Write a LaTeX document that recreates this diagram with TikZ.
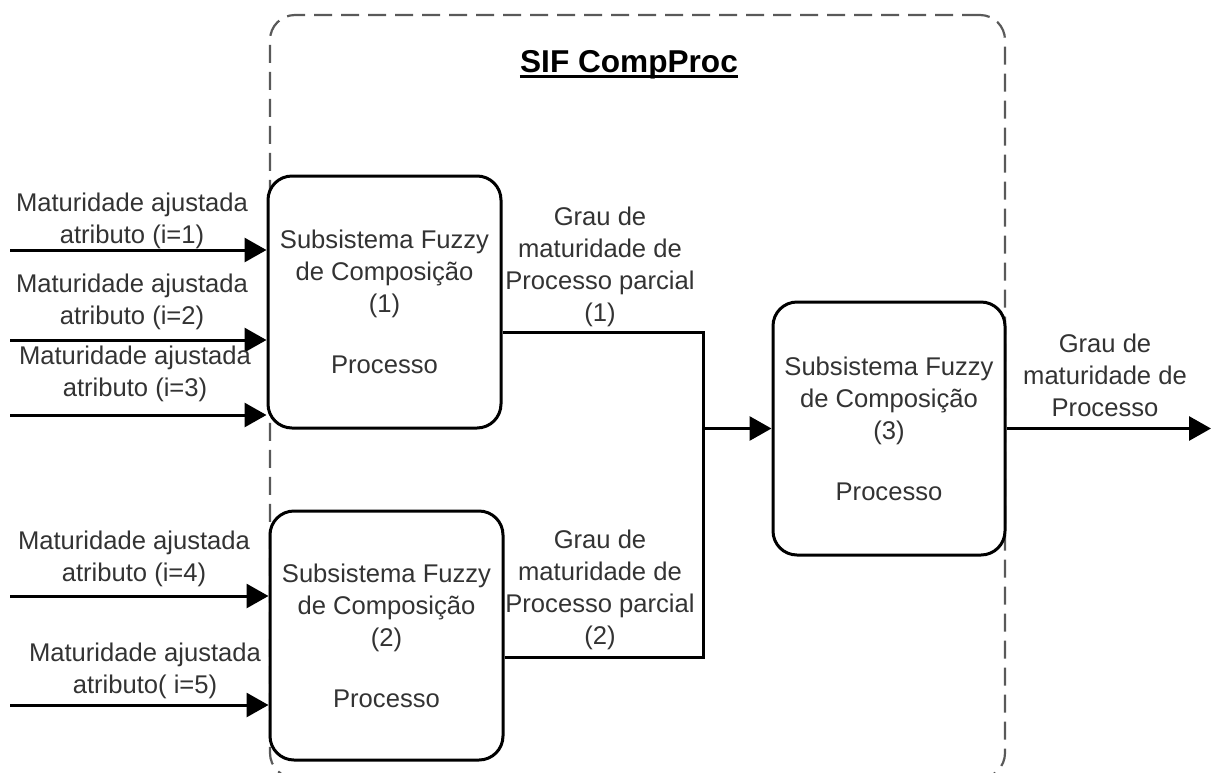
\documentclass[tikz,border=0pt]{standalone}
\usepackage{fontspec}
\setmainfont{Liberation Sans}
\usetikzlibrary{arrows.meta}
\definecolor{inkgray}{rgb}{0.2,0.2,0.2}
\definecolor{framegray}{rgb}{0.35,0.35,0.35}
\newcommand\lbltxt{\fontsize{25.6}{32}\selectfont}
\newcommand\ttltxt{\fontsize{31.6}{38}\selectfont\bfseries}
\tikzset{
  procbox/.style={draw=black, fill=white, line width=3, rounded corners=24,
    minimum width=233, minimum height=250, align=center, inner sep=0,
    font=\lbltxt, text=inkgray},
  lbl/.style={align=center, inner sep=0, font=\lbltxt, text=inkgray},
  wire/.style={line width=3, line cap=butt},
  arr/.style={wire, -{Triangle[length=22, width=24]}},
  frame/.style={draw=framegray, line width=2.2, dash pattern=on 18 off 9,
    rounded corners=25, inner sep=0}
}
\begin{document}
\begin{tikzpicture}[x=1pt, y=-1pt]
  \useasboundingbox (0,0) rectangle (1211,772);

  % dashed system boundary
  \node[frame, minimum width=735, minimum height=763] (sif) at (637.5,396.5) {};
  \node[inner sep=0, font=\ttltxt] (title) at (629,65) {SIF CompProc};
  \draw[line width=2.6] ([yshift=-4]title.base west) -- ([yshift=-4]title.base east);

  % composition subsystems
  \node[procbox, minimum height=252] (b1) at (384.5,302)
    {Subsistema Fuzzy\\de Composição\\(1)\\[29pt]Processo};
  \node[procbox, minimum height=249] (b2) at (386.5,635.5)
    {Subsistema Fuzzy\\de Composição\\(2)\\[29pt]Processo};
  \node[procbox, minimum width=232, minimum height=253] (b3) at (889,428.5)
    {Subsistema Fuzzy\\de Composição\\(3)\\[29pt]Processo};

  % inputs
  \coordinate (i1) at (10,250);
  \coordinate (i2) at (10,340);
  \coordinate (i3) at (10,415);
  \coordinate (i4) at (10,596);
  \coordinate (i5) at (10,705);
  \draw[arr] (i1) -- (i1 -| b1.west);
  \draw[arr] (i2) -- (i2 -| b1.west);
  \draw[arr] (i3) -- (i3 -| b1.west);
  \draw[arr] (i4) -- (i4 -| b2.west);
  \draw[arr] (i5) -- (i5 -| b2.west);

  \node[lbl] (l1) at (132,221) {Maturidade ajustada\\atributo (i=1)};
  \node[lbl] (l2) at (132,302) {Maturidade ajustada\\atributo (i=2)};
  \node[lbl] (l3) at (135,374) {Maturidade ajustada\\atributo (i=3)};
  \node[lbl] (l4) at (134,559) {Maturidade ajustada\\atributo (i=4)};
  \node[lbl] (l5) at (145,671) {Maturidade ajustada\\atributo( i=5)};

  % partial results merged into subsystem 3
  \coordinate (j1) at (703,332);
  \coordinate (j2) at (703,657);
  \coordinate (j) at (j1 |- b3.west);
  \draw[wire, line join=miter] (b1.east |- j1) -- (j1) -- (j2) -- (b2.east |- j2);
  \draw[arr] (j) -- (b3.west);

  \node[lbl] (p1) at (600,266.5) {Grau de\\maturidade de\\Processo parcial\\(1)};
  \node[lbl] (p2) at (600,589.5) {Grau de\\maturidade de\\Processo parcial\\(2)};

  % output
  \coordinate (out) at (1211,428.5);
  \draw[arr] (b3.east) -- (out);
  \node[lbl] (lo) at (1105,375) {Grau de\\maturidade de\\Processo};
\end{tikzpicture}
\end{document}
